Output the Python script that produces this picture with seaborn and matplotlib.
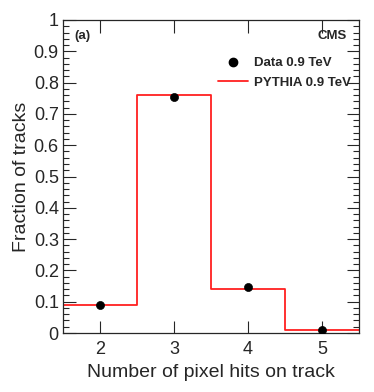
import numpy as np
import pandas as pd
import matplotlib
matplotlib.use("Agg")
import matplotlib.pyplot as plt
import seaborn as sns
from matplotlib.ticker import MultipleLocator
from matplotlib.lines import Line2D

# pixel hits per track, fraction of tracks
hits = [2, 3, 4, 5]
data_frac = [0.090, 0.755, 0.146, 0.009]
mc_frac = [0.089, 0.760, 0.142, 0.009]

sns.set_style("ticks")
plt.rcParams['font.family'] = ['Liberation Sans', 'DejaVu Sans']

df = pd.DataFrame({"hits": hits, "data": data_frac, "mc": mc_frac})

fig = plt.figure(figsize=(3.74, 3.92), dpi=100)
ax = fig.add_axes([63 / 374, 1 - 333 / 392, 296 / 374, 313 / 392])

# MC as a step histogram
sns.histplot(data=df, x="hits", weights="mc", discrete=True, element="step",
             fill=False, color="#ff2020", linewidth=1.3, ax=ax)
# data points
sns.scatterplot(data=df, x="hits", y="data", color="black", s=34,
                edgecolor="black", zorder=5, ax=ax)

ax.set_xlim(1.5, 5.5)
ax.set_ylim(0, 1)
ax.xaxis.set_major_locator(MultipleLocator(1))
ax.yaxis.set_minor_locator(MultipleLocator(0.02))
ax.set_yticks(np.arange(0, 1.01, 0.1))
ax.set_yticklabels(["0"] + [f"{v:.1f}" for v in np.arange(0.1, 0.95, 0.1)] + ["1"])
ax.tick_params(which="both", direction="in", top=True, right=True, labelsize=13, pad=3)
ax.tick_params(axis="x", pad=6)
ax.tick_params(which="major", length=9, width=0.8)
ax.tick_params(which="minor", length=4.5, width=0.8)
for sp in ax.spines.values():
    sp.set_linewidth(0.9)

ax.set_xlabel("Number of pixel hits on track", fontsize=14, labelpad=4)
ax.set_ylabel("Fraction of tracks", fontsize=14, labelpad=3)

ax.text(0.04, 0.95, "(a)", transform=ax.transAxes, fontsize=9.5, fontweight="bold", va="center")
ax.text(0.96, 0.95, "CMS", transform=ax.transAxes, fontsize=9.5, fontweight="bold",
        va="center", ha="right")

handles = [Line2D([], [], marker="o", color="black", linestyle="none", markersize=6),
           Line2D([], [], color="#ff2020", linewidth=1.3)]
ax.legend(handles, ["Data 0.9 TeV", "PYTHIA 0.9 TeV"], loc="upper right",
          bbox_to_anchor=(1.012, 0.92), frameon=False, handlelength=2.3,
          handletextpad=0.4, prop={"weight": "bold", "size": 9.5}, labelspacing=0.55)

fig.savefig("out.png", dpi=100)
